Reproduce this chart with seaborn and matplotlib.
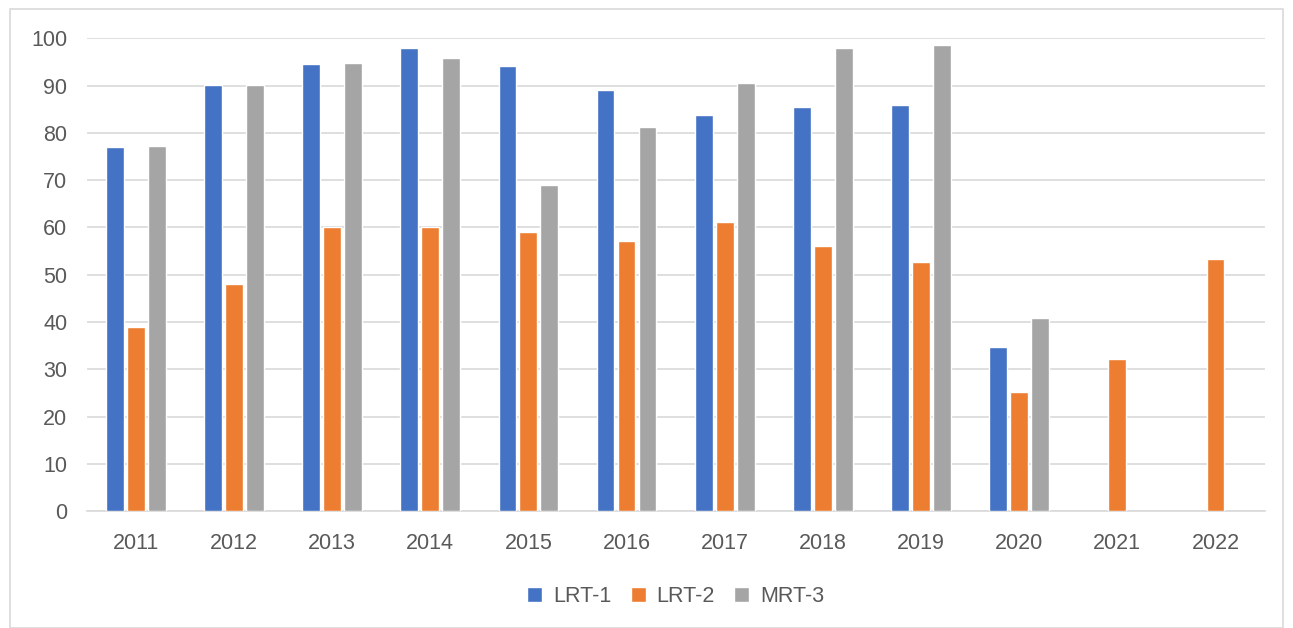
import numpy as np
import pandas as pd
import matplotlib
matplotlib.use("Agg")
import matplotlib.pyplot as plt
import seaborn as sns

# Datos
years = ["2011", "2012", "2013", "2014", "2015", "2016",
         "2017", "2018", "2019", "2020", "2021", "2022"]
lrt1 = [77.0, 90.2, 94.5, 98.0, 94.2, 89.1, 83.8, 85.4, 85.8, 34.7, np.nan, np.nan]
lrt2 = [39.0, 48.0, 60.0, 60.0, 59.0, 57.1, 61.1, 56.0, 52.6, 25.2, 32.2, 53.4]
mrt3 = [77.3, 90.2, 94.7, 95.9, 68.9, 81.3, 90.6, 98.0, 98.6, 40.8, np.nan, np.nan]
lines = ["LRT-1", "LRT-2", "MRT-3"]
colors = ["#4472C4", "#ED7D31", "#A5A5A5"]

df = pd.DataFrame({"year": years, "LRT-1": lrt1, "LRT-2": lrt2, "MRT-3": mrt3})
df = df.melt(id_vars="year", var_name="line", value_name="value")

sns.set_style("white")
plt.rcParams["font.family"] = ["Liberation Sans", "DejaVu Sans"]

fig = plt.figure(figsize=(12.93, 6.28), dpi=100)
ax = fig.add_axes([0.067, 0.186, 0.911, 0.753])

sns.barplot(data=df, x="year", y="value", hue="line", hue_order=lines,
            palette=colors, width=0.64, gap=0.15, saturation=1,
            errorbar=None, ax=ax, zorder=3)

ax.set_ylim(0, 100)
ax.set_yticks(range(0, 101, 10))
ax.yaxis.grid(True, color="#D9D9D9", linewidth=1.2, zorder=0)
ax.set_axisbelow(True)
ax.set_xlabel("")
ax.set_ylabel("")
ax.tick_params(axis="both", length=0, labelsize=15.5, colors="#595959")
ax.tick_params(axis="x", pad=16)
ax.tick_params(axis="y", pad=14)
for side in ["left", "right", "top"]:
    ax.spines[side].set_visible(False)
ax.spines["bottom"].set_color("#D9D9D9")
ax.spines["bottom"].set_linewidth(1.2)

leg = ax.legend(loc="center", bbox_to_anchor=(0.5, -0.18), ncol=3, frameon=False,
                fontsize=15.5, handlelength=0.7, handleheight=0.7,
                handletextpad=0.5, columnspacing=0.9)
for t in leg.get_texts():
    t.set_color("#595959")

# marco exterior
fig.patches.append(plt.Rectangle((10 / 1293, 0.0), 1273 / 1293, 1 - 9 / 628,
                                 transform=fig.transFigure, fill=False,
                                 edgecolor="#D9D9D9", linewidth=1.2))

fig.savefig("out.png", dpi=100)
